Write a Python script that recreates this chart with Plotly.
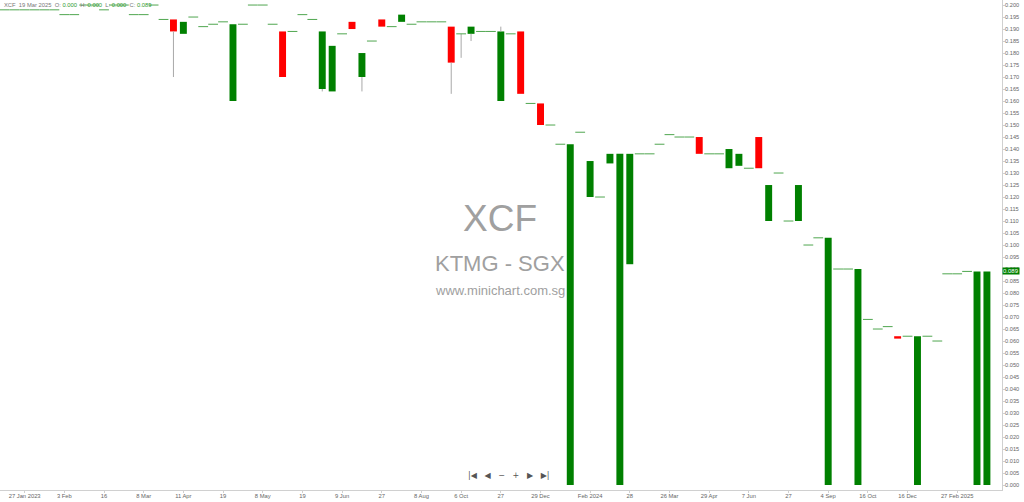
import plotly.graph_objects as go

# one entry per traded session (oldest first)
opens = [0.198, 0.198, 0.198, 0.198, 0.198, 0.198, 0.196, 0.196, 0.200, 0.200,
         0.198, 0.200, 0.200, 0.196, 0.196, 0.200, 0.194, 0.194, 0.188, 0.195,
         0.191, 0.192, 0.193, 0.160, 0.192, 0.200, 0.200, 0.192, 0.189, 0.189,
         0.196, 0.194, 0.165, 0.164, 0.188, 0.193, 0.170, 0.185, 0.194, 0.191,
         0.193, 0.192, 0.193, 0.193, 0.193, 0.191, 0.188, 0.188, 0.189, 0.189,
         0.160, 0.188, 0.189, 0.159, 0.159, 0.150, 0.142, 0.000, 0.147, 0.120,
         0.120, 0.134, 0.000, 0.092, 0.138, 0.138, 0.142, 0.146, 0.145, 0.145,
         0.145, 0.138, 0.138, 0.132, 0.133, 0.132, 0.145, 0.110, 0.130, 0.110,
         0.110, 0.100, 0.103, 0.000, 0.090, 0.090, 0.000, 0.069, 0.065, 0.066,
         0.062, 0.062, 0.000, 0.062, 0.060, 0.088, 0.088, 0.089, 0.000, 0.000]
closes = [0.198, 0.198, 0.198, 0.198, 0.198, 0.198, 0.196, 0.196, 0.200, 0.200,
          0.198, 0.200, 0.200, 0.196, 0.196, 0.200, 0.194, 0.189, 0.193, 0.195,
          0.191, 0.192, 0.193, 0.192, 0.192, 0.200, 0.200, 0.192, 0.170, 0.189,
          0.196, 0.194, 0.189, 0.183, 0.188, 0.190, 0.180, 0.185, 0.191, 0.191,
          0.196, 0.192, 0.193, 0.193, 0.193, 0.176, 0.188, 0.191, 0.189, 0.189,
          0.189, 0.188, 0.163, 0.159, 0.150, 0.150, 0.142, 0.142, 0.147, 0.135,
          0.120, 0.138, 0.138, 0.138, 0.138, 0.138, 0.142, 0.146, 0.145, 0.145,
          0.138, 0.138, 0.138, 0.140, 0.138, 0.132, 0.132, 0.125, 0.130, 0.110,
          0.125, 0.100, 0.103, 0.103, 0.090, 0.090, 0.090, 0.069, 0.065, 0.066,
          0.061, 0.062, 0.062, 0.062, 0.060, 0.088, 0.088, 0.089, 0.089, 0.089]
highs = [0.198, 0.198, 0.198, 0.198, 0.198, 0.198, 0.196, 0.196, 0.200, 0.200,
         0.198, 0.200, 0.200, 0.196, 0.196, 0.200, 0.194, 0.194, 0.193, 0.195,
         0.191, 0.192, 0.193, 0.192, 0.192, 0.200, 0.200, 0.192, 0.189, 0.189,
         0.196, 0.194, 0.189, 0.183, 0.188, 0.193, 0.180, 0.185, 0.194, 0.191,
         0.196, 0.192, 0.193, 0.193, 0.193, 0.191, 0.188, 0.191, 0.189, 0.189,
         0.191, 0.188, 0.189, 0.159, 0.159, 0.150, 0.142, 0.142, 0.147, 0.135,
         0.120, 0.138, 0.138, 0.138, 0.138, 0.138, 0.142, 0.146, 0.145, 0.145,
         0.145, 0.138, 0.138, 0.140, 0.138, 0.132, 0.145, 0.125, 0.130, 0.110,
         0.125, 0.100, 0.103, 0.103, 0.090, 0.090, 0.090, 0.069, 0.065, 0.066,
         0.062, 0.062, 0.062, 0.062, 0.060, 0.088, 0.088, 0.089, 0.089, 0.089]
lows = [0.198, 0.198, 0.198, 0.198, 0.198, 0.198, 0.196, 0.196, 0.200, 0.200,
        0.198, 0.200, 0.200, 0.196, 0.196, 0.200, 0.194, 0.170, 0.188, 0.195,
        0.191, 0.192, 0.193, 0.160, 0.192, 0.200, 0.200, 0.192, 0.170, 0.189,
        0.196, 0.194, 0.164, 0.164, 0.188, 0.190, 0.164, 0.185, 0.191, 0.191,
        0.193, 0.192, 0.193, 0.193, 0.193, 0.163, 0.178, 0.185, 0.189, 0.189,
        0.160, 0.188, 0.163, 0.159, 0.150, 0.150, 0.142, 0.000, 0.147, 0.120,
        0.120, 0.134, 0.000, 0.092, 0.138, 0.138, 0.142, 0.146, 0.145, 0.145,
        0.138, 0.138, 0.138, 0.132, 0.133, 0.132, 0.132, 0.110, 0.130, 0.110,
        0.110, 0.100, 0.103, 0.000, 0.090, 0.090, 0.000, 0.069, 0.065, 0.066,
        0.061, 0.062, 0.000, 0.062, 0.060, 0.088, 0.088, 0.089, 0.000, 0.000]

tick_pos = [2, 6, 10, 14, 18, 22, 26, 30, 34, 38, 42, 46, 50, 54, 59, 63, 67,
            71, 75, 79, 83, 87, 91, 96]
tick_text = ["27 Jan 2023", "3 Feb", "16", "8 Mar", "11 Apr", "19", "8 May",
             "19", "9 Jun", "27", "8 Aug", "6 Oct", "27", "29 Dec", "Feb 2024",
             "28", "26 Mar", "29 Apr", "7 Jun", "27", "4 Sep", "16 Oct",
             "16 Dec", "27 Feb 2025"]

GREEN = "#008000"
RED = "#ff0000"
GREY = "#666666"
FONT = "Liberation Sans"

idx = list(range(len(opens)))

# wicks: only the parts sticking out of the body (bars sit below scatter layers)
wx, wy = [], []
for i in idx:
    top, bot = max(opens[i], closes[i]), min(opens[i], closes[i])
    if highs[i] > top:
        wx += [i, i, None]
        wy += [top, highs[i], None]
    if lows[i] < bot:
        wx += [i, i, None]
        wy += [lows[i], bot, None]

# bodies (o != c) and dojis (o == c)
bx, bbase, bh, bcol = [], [], [], []
dx, dy = [], []
for i in idx:
    o, c = opens[i], closes[i]
    if o == c:
        dx.append(i)
        dy.append(c)
    else:
        bx.append(i)
        bbase.append(min(o, c))
        bh.append(abs(c - o))
        bcol.append(GREEN if c > o else RED)

fig = go.Figure()
fig.add_trace(go.Bar(x=bx, y=bh, base=bbase, width=0.7,
                     marker=dict(color=bcol, line=dict(width=0))))
fig.add_trace(go.Scatter(x=wx, y=wy, mode="lines",
                         line=dict(color="#a8a8a8", width=1), hoverinfo="skip"))
fig.add_trace(go.Scatter(x=dx, y=dy, mode="markers",
                         marker=dict(symbol="line-ew", size=7,
                                     line=dict(width=1, color="#4fa64f"))))

G = "<span style='color:#777'>%s</span>"
V = "<span style='color:#2e9a2e'>%s</span>"
header = (G % "XCF" + "  " + G % "19 Mar 2025" + "  "
          + G % "O:" + " " + V % "0.000" + "  "
          + G % "H:" + " " + V % "0.000" + "  "
          + G % "L:" + " " + V % "0.000" + "  "
          + G % "C:" + " " + V % ("%.3f" % closes[-1]))

annotations = [
    dict(text=header, x=0.0025, y=0.998, xref="paper", yref="paper",
         xanchor="left", yanchor="top", showarrow=False, borderpad=0,
         font=dict(family=FONT, size=5.8)),
    dict(text="XCF", x=0.499, y=0.555, xref="paper", yref="paper",
         showarrow=False, font=dict(family=FONT, size=37, color="#a0a0a0")),
    dict(text="KTMG - SGX", x=0.499, y=0.463, xref="paper", yref="paper",
         showarrow=False, font=dict(family=FONT, size=22, color="#a0a0a0")),
    dict(text="www.minichart.com.sg", x=0.499, y=0.408, xref="paper", yref="paper",
         showarrow=False, font=dict(family=FONT, size=13, color="#a0a0a0")),
    dict(text="|◀   ◀   −   +   ▶   ▶|", x=0.508, y=0.016, xref="paper", yref="paper",
         showarrow=False, font=dict(family="DejaVu Sans", size=8, color="#555555")),
    dict(text="%.3f" % closes[-1], x=1.0, y=closes[-1], xref="paper", yref="y",
         xanchor="left", showarrow=False, bgcolor=GREEN, borderpad=0,
         font=dict(family=FONT, size=6, color="white")),
]

fig.update_layout(
    width=1024, height=502,
    margin=dict(l=0, r=22, t=0, b=12, autoexpand=False),
    paper_bgcolor="white", plot_bgcolor="white",
    showlegend=False, hovermode=False,
    annotations=annotations,
    xaxis=dict(range=[-0.484, 100.52], tickvals=tick_pos, ticktext=tick_text,
               automargin=False,
               showgrid=False, zeroline=False, showline=True, linecolor="#d0d0d0",
               ticks="outside", ticklen=2, tickcolor="#d0d0d0",
               ticklabelstandoff=-2,
               tickfont=dict(family=FONT, size=5.8, color=GREY)),
    yaxis=dict(side="right", range=[-0.00208, 0.2021], dtick=0.005, tick0=0,
               tickformat=".3f", showgrid=False, zeroline=False, automargin=False,
               showline=True, linecolor="#d0d0d0", ticks="outside", ticklen=2,
               tickcolor="#d0d0d0", ticklabelstandoff=-1,
               tickfont=dict(family=FONT, size=5.6, color=GREY)),
)

# the page body has a default 8px margin; drop it so the chart fills the window
fig.write_html("out.html", config={"displayModeBar": False},
               post_script="document.body.style.margin='0';")
